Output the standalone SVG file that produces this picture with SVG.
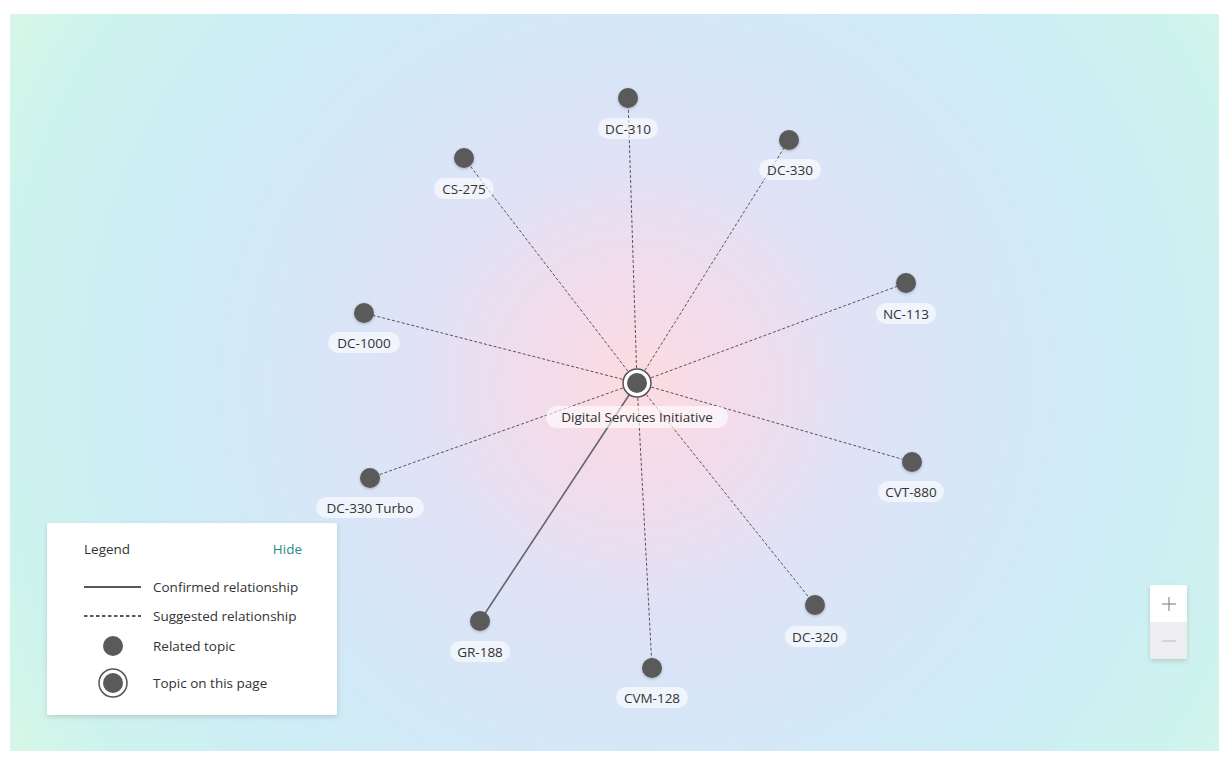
<svg xmlns="http://www.w3.org/2000/svg" width="1229" height="757" viewBox="0 0 1229 757">
<defs>
<radialGradient id="bg" gradientUnits="userSpaceOnUse" cx="637" cy="383" r="740">
<stop offset="0" stop-color="#fddbe1"/>
<stop offset="0.15" stop-color="#f1dcec"/>
<stop offset="0.3" stop-color="#e0e2f6"/>
<stop offset="0.5" stop-color="#d4e8f8"/>
<stop offset="0.7" stop-color="#cdeef5"/>
<stop offset="0.86" stop-color="#cdf3ee"/>
<stop offset="1" stop-color="#d8f8e6"/>
</radialGradient>
<filter id="sh" x="-10%" y="-10%" width="120%" height="130%">
<feDropShadow dx="0" dy="2" stdDeviation="2.5" flood-color="#000" flood-opacity="0.14"/>
</filter>
<filter id="nsh" x="-50%" y="-50%" width="200%" height="200%">
<feDropShadow dx="0" dy="1" stdDeviation="1.5" flood-color="#000" flood-opacity="0.25"/>
</filter>
</defs>
<style>
.lbl{font-family:"Open Sans","Noto Sans","DejaVu Sans",sans-serif;font-size:13.5px;fill:#333;text-anchor:middle}
.pill{fill:#ffffff;fill-opacity:0.6}
.dot{fill:#5a5a5a;filter:url(#nsh)}
.dash{stroke:#555;stroke-width:1;stroke-dasharray:3 2;fill:none}
.solid{stroke:#666;stroke-width:1.6;fill:none}
.lg{font-family:"Open Sans","Noto Sans","DejaVu Sans",sans-serif;font-size:13.5px;fill:#333}
</style>
<rect width="1229" height="757" fill="#ffffff"/>
<rect x="10" y="14" width="1209" height="737" fill="url(#bg)"/>

<g id="connectors">
<line class="dash" x1="637" y1="383" x2="628" y2="98"/>
<line class="dash" x1="637" y1="383" x2="789" y2="140"/>
<line class="dash" x1="637" y1="383" x2="464" y2="158"/>
<line class="dash" x1="637" y1="383" x2="906" y2="283"/>
<line class="dash" x1="637" y1="383" x2="364" y2="313"/>
<line class="dash" x1="637" y1="383" x2="912" y2="462"/>
<line class="dash" x1="637" y1="383" x2="370" y2="478"/>
<line class="dash" x1="637" y1="383" x2="815" y2="605"/>
<line class="dash" x1="637" y1="383" x2="652" y2="668"/>
<line class="solid" x1="637" y1="383" x2="480" y2="621"/>
</g>

<g id="node-center">
<circle cx="637" cy="383" r="14" fill="#fff" stroke="#555" stroke-width="1.5"/>
<circle cx="637" cy="383" r="10" fill="#5a5a5a"/>
<rect class="pill" x="546" y="406" width="182" height="22" rx="11"/>
<text class="lbl" x="637" y="422">Digital Services Initiative</text>
</g>
<g id="node-dc310">
<circle class="dot" cx="628" cy="98" r="10"/>
<rect class="pill" x="598" y="118" width="60" height="21" rx="10.5"/>
<text class="lbl" x="628" y="134">DC-310</text>
</g>
<g id="node-dc330">
<circle class="dot" cx="789" cy="140" r="10"/>
<rect class="pill" x="759" y="159" width="62" height="21" rx="10.5"/>
<text class="lbl" x="790" y="175">DC-330</text>
</g>
<g id="node-cs275">
<circle class="dot" cx="464" cy="158" r="10"/>
<rect class="pill" x="434" y="178" width="60" height="21" rx="10.5"/>
<text class="lbl" x="464" y="194">CS-275</text>
</g>
<g id="node-nc113">
<circle class="dot" cx="906" cy="283" r="10"/>
<rect class="pill" x="876" y="303" width="60" height="21" rx="10.5"/>
<text class="lbl" x="906" y="319">NC-113</text>
</g>
<g id="node-dc1000">
<circle class="dot" cx="364" cy="313" r="10"/>
<rect class="pill" x="328" y="332" width="72" height="21" rx="10.5"/>
<text class="lbl" x="364" y="348">DC-1000</text>
</g>
<g id="node-cvt880">
<circle class="dot" cx="912" cy="462" r="10"/>
<rect class="pill" x="878" y="481" width="66" height="21" rx="10.5"/>
<text class="lbl" x="911" y="497">CVT-880</text>
</g>
<g id="node-dc330turbo">
<circle class="dot" cx="370" cy="478" r="10"/>
<rect class="pill" x="316" y="497" width="108" height="21" rx="10.5"/>
<text class="lbl" x="370" y="513">DC-330 Turbo</text>
</g>
<g id="node-dc320">
<circle class="dot" cx="815" cy="605" r="10"/>
<rect class="pill" x="785" y="626" width="62" height="21" rx="10.5"/>
<text class="lbl" x="815" y="642">DC-320</text>
</g>
<g id="node-gr188">
<circle class="dot" cx="480" cy="621" r="10"/>
<rect class="pill" x="450" y="641" width="60" height="21" rx="10.5"/>
<text class="lbl" x="480" y="657">GR-188</text>
</g>
<g id="node-cvm128">
<circle class="dot" cx="652" cy="668" r="10"/>
<rect class="pill" x="616" y="687" width="72" height="21" rx="10.5"/>
<text class="lbl" x="652" y="703">CVM-128</text>
</g>

<g id="legend">
<rect x="47" y="523" width="290" height="192" rx="2" fill="#fff" filter="url(#sh)"/>
<text class="lg" x="84" y="554">Legend</text>
<text class="lg" x="302" y="554" text-anchor="end" style="fill:#2a8a84">Hide</text>
<line x1="84" y1="587" x2="141" y2="587" stroke="#222" stroke-width="1.3"/>
<text class="lg" x="153" y="592">Confirmed relationship</text>
<line x1="84" y1="616" x2="141" y2="616" stroke="#222" stroke-width="1.3" stroke-dasharray="3.5 2.5"/>
<text class="lg" x="153" y="621">Suggested relationship</text>
<circle cx="113" cy="646" r="10" fill="#5a5a5a"/>
<text class="lg" x="153" y="651">Related topic</text>
<circle cx="113" cy="683" r="14" fill="#fff" stroke="#555" stroke-width="1.5"/>
<circle cx="113" cy="683" r="10" fill="#5a5a5a"/>
<text class="lg" x="153" y="688">Topic on this page</text>
</g>

<g id="zoom-controls">
<rect x="1150" y="585" width="37" height="74" rx="2" fill="#fff" filter="url(#sh)"/>
<rect x="1150" y="622" width="37" height="37" fill="#eeeef0"/>
<line x1="1162" y1="604" x2="1176" y2="604" stroke="#777" stroke-width="1"/>
<line x1="1169" y1="597" x2="1169" y2="611" stroke="#777" stroke-width="1"/>
<line x1="1162" y1="641" x2="1176" y2="641" stroke="#bbb" stroke-width="1"/>
</g>
</svg>
